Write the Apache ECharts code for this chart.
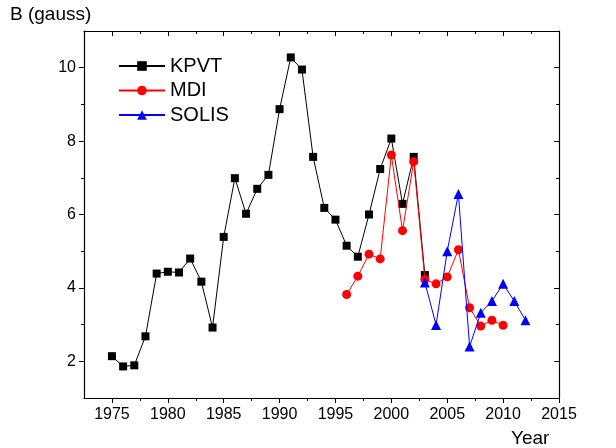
<!DOCTYPE html>
<html><head><meta charset="utf-8">
<script src="https://cdn.jsdelivr.net/npm/echarts@6/dist/echarts.min.js"></script>
<style>html,body{margin:0;padding:0;background:#fff}#c{width:616px;height:448px}</style>
</head><body><div id="c"></div>
<script>
var kpvtYears = [1975,1976,1977,1978,1979,1980,1981,1982,1983,1984,1985,1986,1987,1988,1989,1990,1991,1992,1993,1994,1995,1996,1997,1998,1999,2000,2001,2002,2003];
var kpvtValues = [2.14,1.86,1.89,2.68,4.39,4.44,4.42,4.80,4.17,2.92,5.39,6.99,6.02,6.70,7.08,8.87,10.28,9.95,7.57,6.18,5.86,5.15,4.85,6.00,7.24,8.07,6.29,7.57,4.35];
var mdiYears = [1996,1997,1998,1999,2000,2001,2002,2003,2004,2005,2006,2007,2008,2009,2010];
var mdiValues = [3.82,4.32,4.92,4.79,7.62,5.56,7.44,4.23,4.11,4.30,5.04,3.46,2.96,3.12,2.98];
var solisYears = [2003,2004,2005,2006,2007,2008,2009,2010,2011,2012];
var solisValues = [4.15,2.99,5.00,6.56,2.40,3.32,3.64,4.11,3.64,3.12];
var xMajorTicks = [1975,1980,1985,1990,1995,2000,2005,2010,2015];
var xMinorTicks = [1977.5,1982.5,1987.5,1992.5,1997.5,2002.5,2007.5,2012.5];
var yMajorTicks = [2,4,6,8,10];
var yMinorTicks = [3,5,7,9];

function pairs(xs, ys){ return xs.map(function(x,i){return [x, ys[i]];}); }
var FONT = 'Liberation Sans, Arial, sans-serif';
var lineStyle = {color:'#000', width:1.2};
function fmt(v){ return String(v); }
function xAx(pos, ticks, len, inside, showLabel, showLine){
  return {type:'value', position:pos, min:1972.5, max:2015, gridIndex:0,
    axisLine:{show:showLine, onZero:false, lineStyle:lineStyle},
    axisTick:{show:true, customValues:ticks, length:len, inside:inside, lineStyle:{color:'#000', width:1}},
    axisLabel:{show:showLabel, customValues:ticks, formatter:fmt, color:'#000', fontSize:16, fontFamily:FONT, margin:9},
    splitLine:{show:false}};
}
function yAx(pos, ticks, len, inside, showLabel, showLine){
  return {type:'value', position:pos, min:1, max:11, gridIndex:0,
    axisLine:{show:showLine, onZero:false, lineStyle:lineStyle},
    axisTick:{show:true, customValues:ticks, length:len, inside:inside, lineStyle:{color:'#000', width:1}},
    axisLabel:{show:showLabel, customValues:ticks, formatter:fmt, color:'#000', fontSize:16, fontFamily:FONT, margin:8},
    splitLine:{show:false}};
}
var chart = echarts.init(document.getElementById('c'), null, {renderer:'canvas'});
chart.setOption({
  animation:false,
  backgroundColor:'#fff',
  grid:{left:84, right:57, top:31, bottom:50},
  xAxis:[
    xAx('bottom', xMajorTicks, 5, false, true, true),
    xAx('bottom', xMinorTicks, 3, false, false, false),
    xAx('top', xMajorTicks, 5, true, false, true),
    xAx('top', xMinorTicks, 3, true, false, false)
  ],
  yAxis:[
    yAx('left', yMajorTicks, 5, false, true, true),
    yAx('left', yMinorTicks, 3, false, false, false),
    yAx('right', yMajorTicks, 5, true, false, true),
    yAx('right', yMinorTicks, 3, true, false, false)
  ],
  legend:{
    orient:'vertical', left:113, top:51, itemWidth:46, itemHeight:12, itemGap:4.5,
    textStyle:{color:'#000', fontSize:20, fontFamily:FONT},
    data:['KPVT','MDI','SOLIS']
  },
  graphic:[
    {type:'text', left:10, top:5, style:{text:'B (gauss)', fontSize:19, fontFamily:FONT, fill:'#000'}},
    {type:'text', left:511, top:429, style:{text:'Year', fontSize:19, fontFamily:FONT, fill:'#000'}}
  ],
  series:[
    {name:'KPVT', type:'line', data:pairs(kpvtYears,kpvtValues), symbol:'rect', symbolSize:8,
     itemStyle:{color:'#000'}, lineStyle:{color:'#000', width:1}, z:2},
    {name:'MDI', type:'line', data:pairs(mdiYears,mdiValues), symbol:'circle', symbolSize:9,
     itemStyle:{color:'#ff0000'}, lineStyle:{color:'#ff0000', width:1}, z:3},
    {name:'SOLIS', type:'line', data:pairs(solisYears,solisValues), symbol:'triangle', symbolSize:10,
     itemStyle:{color:'#0000ff'}, lineStyle:{color:'#0000ff', width:1}, z:4}
  ]
});
</script></body></html>
